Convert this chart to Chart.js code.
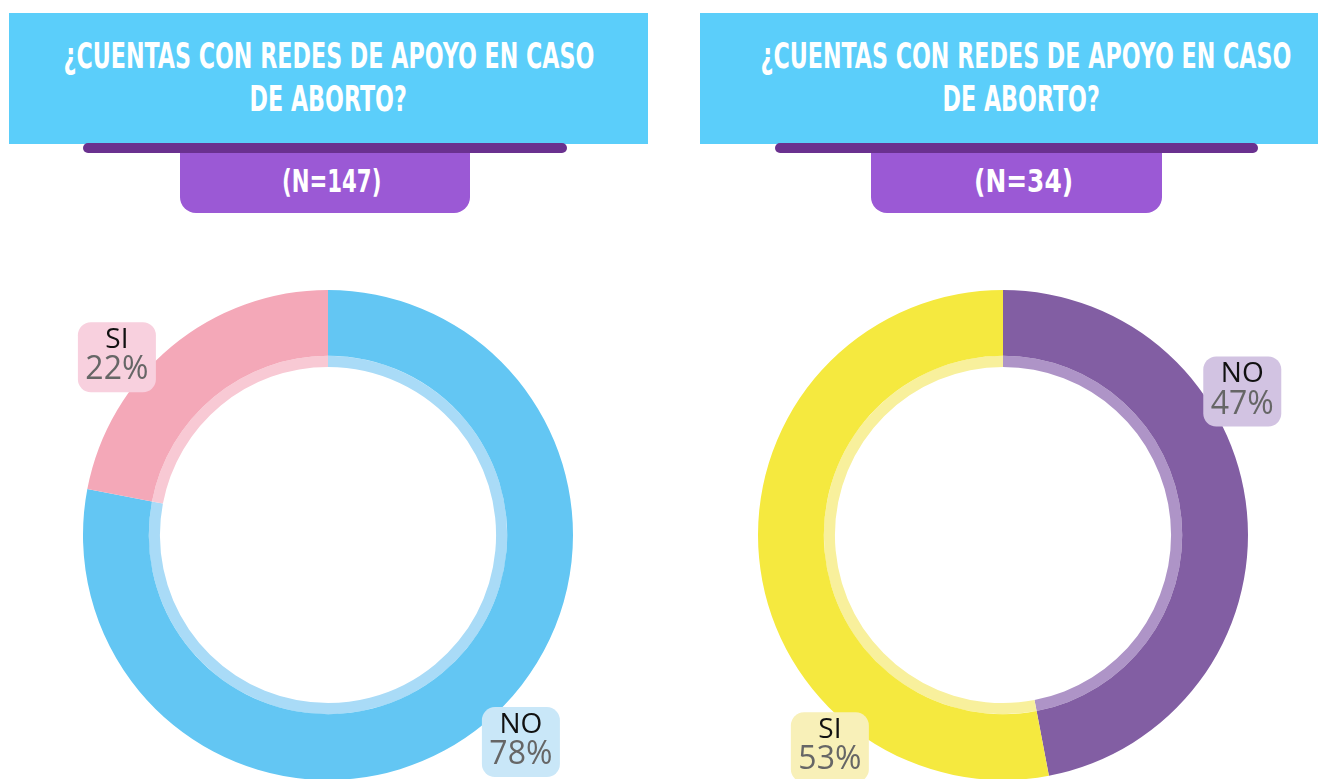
<!DOCTYPE html>
<html>
<head>
<meta charset="utf-8">
<script src="https://cdn.jsdelivr.net/npm/chart.js@4.4.1/dist/chart.umd.min.js"></script>
<style>
  html, body { margin: 0; padding: 0; background: #fff; width: 1327px; height: 779px; overflow: hidden; position: relative; }
  .title { position: absolute; top: 13px; height: 131px; background: #5BCEFA; color: #fff;
           font-family: "DejaVu Sans Condensed", "Liberation Sans", sans-serif; font-weight: bold;
           font-size: 28px; line-height: 43px; text-align: center; box-sizing: border-box; padding-top: 21px;
           white-space: nowrap; }
  .title span, .n span { display: inline-block; transform-origin: 50% 50%; }
  .bar { position: absolute; top: 143px; height: 10px; border-radius: 5px; background: #6A318F; }
  .n { position: absolute; top: 153px; height: 60px; background: #9B59D5; color: #fff; border-radius: 0 0 16px 16px;
       font-family: "DejaVu Sans Condensed", "Liberation Sans", sans-serif; font-weight: bold;
       font-size: 26px; text-align: center; line-height: 56px; white-space: nowrap;
       box-sizing: border-box; padding-left: 14px; }
  canvas { position: absolute; top: 290px; }
</style>
</head>
<body>
<div class="title" style="left:9px;width:639px"><span class="t1">¿CUENTAS CON REDES DE APOYO EN CASO</span><br><span class="t2">DE ABORTO?</span></div>
<div class="n" style="left:180px;width:290px"><span id="n1"></span></div>
<div class="bar" style="left:83px;width:484px"></div>

<div class="title" style="left:700px;width:618px;padding-left:25px"><span class="t1">¿CUENTAS CON REDES DE APOYO EN CASO</span><br><span class="t2">DE ABORTO?</span></div>
<div class="n" style="left:871px;width:291px"><span id="n2"></span></div>
<div class="bar" style="left:775px;width:483px"></div>

<canvas id="chart1" width="656" height="490" style="left:0px"></canvas>
<canvas id="chart2" width="648" height="490" style="left:679px"></canvas>

<script>
// respuestas por grupo
var sample1 = 147;
var labels1 = ['NO', 'SI'];
var values1 = [78, 22];

var sample2 = 34;
var labels2 = ['NO', 'SI'];
var values2 = [47, 53];

// tag placement: share of the slice from its start, and gap outside the ring
var tagAt1 = [0.488, 0.37];
var tagGap1 = [38, 31];
var tagAt2 = [0.349, 0.262];
var tagGap2 = [34, 29];

document.getElementById('n1').textContent = '(N=' + sample1 + ')';
document.getElementById('n2').textContent = '(N=' + sample2 + ')';

// squeeze the heading text into a tall, narrow look
document.querySelectorAll('.title').forEach(function(box) {
    var first = box.querySelector('.t1');
    var sx = 531 / first.offsetWidth;
    box.querySelectorAll('span').forEach(function(s) {
        s.style.transform = 'scale(' + sx + ', 1.28)';
    });
});
document.querySelectorAll('.n span').forEach(function(s) {
    s.style.transform = 'scale(' + (99 / s.offsetWidth) + ', 1.22)';
});

function roundRect(ctx, x, y, w, h, r) {
    ctx.beginPath();
    ctx.moveTo(x + r, y);
    ctx.arcTo(x + w, y, x + w, y + h, r);
    ctx.arcTo(x + w, y + h, x, y + h, r);
    ctx.arcTo(x, y + h, x, y, r);
    ctx.arcTo(x, y, x + w, y, r);
    ctx.closePath();
}

var tagPlugin = {
    id: 'tags',
    afterDatasetsDraw: function(chart, args, opts) {
        var ctx = chart.ctx;
        var meta = chart.getDatasetMeta(0);
        var ds = chart.data.datasets[0];
        meta.data.forEach(function(arc, i) {
            var a = arc.startAngle + opts.at[i] * (arc.endAngle - arc.startAngle);
            var d = arc.outerRadius + opts.gap[i];
            var cx = arc.x + d * Math.cos(a);
            var cy = arc.y + d * Math.sin(a);
            ctx.save();
            ctx.fillStyle = opts.boxes[i];
            roundRect(ctx, cx - 39, cy - 35, 78, 70, 13);
            ctx.fill();
            ctx.textAlign = 'center';
            ctx.textBaseline = 'middle';
            ctx.fillStyle = '#111';
            ctx.font = '28px "Open Sans", sans-serif';
            ctx.fillText(chart.data.labels[i], cx, cy - 17);
            ctx.fillStyle = '#666';
            ctx.font = '32px "Open Sans", sans-serif';
            ctx.fillText(ds.data[i] + '%', cx, cy + 13);
            ctx.restore();
        });
    }
};

function donut(id, labels, values, strong, light, boxes, tagAt, tagGap) {
    return new Chart(document.getElementById(id), {
        type: 'doughnut',
        data: {
            labels: labels,
            datasets: [
                { data: values, backgroundColor: strong, borderWidth: 0, weight: 65 },
                { data: values, backgroundColor: light, borderWidth: 0, weight: 11 }
            ]
        },
        options: {
            responsive: false,
            devicePixelRatio: 1,
            animation: false,
            cutout: '68.6%',
            layout: { padding: 0 },
            plugins: {
                legend: { display: false },
                tooltip: { enabled: false },
                tags: { at: tagAt, gap: tagGap, boxes: boxes }
            }
        },
        plugins: [tagPlugin]
    });
}

donut('chart1', labels1, values1,
      ['#63C6F3', '#F4A8B8'], ['#A9DBF7', '#F8C9D4'], ['#C9E7F8', '#F8D0DE'], tagAt1, tagGap1);
donut('chart2', labels2, values2,
      ['#825EA3', '#F5E93F'], ['#AE94C7', '#F8F09C'], ['#D2C3E2', '#F8F0B8'], tagAt2, tagGap2);
</script>
</body>
</html>
